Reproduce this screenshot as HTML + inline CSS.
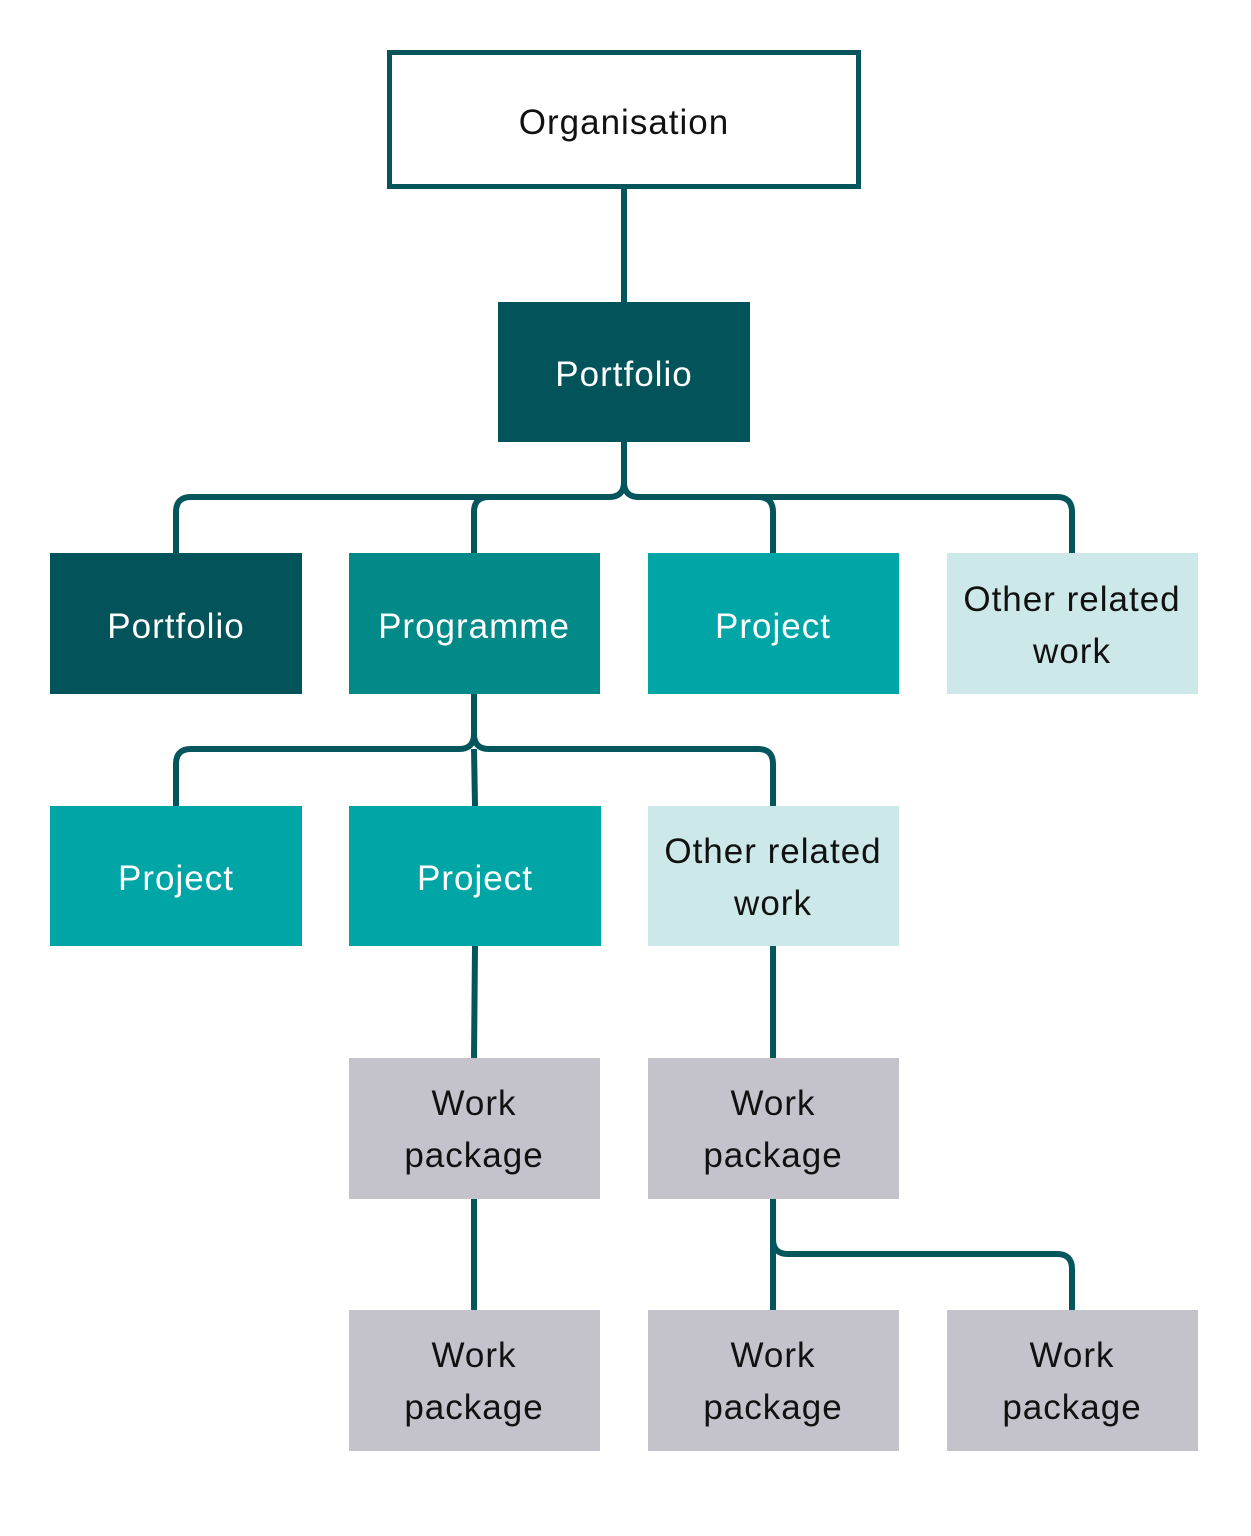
<!DOCTYPE html>
<html><head><meta charset="utf-8"><style>
html,body{margin:0;padding:0;background:#fff;}
svg{display:block;}
text{font-family:"Liberation Sans",sans-serif;font-size:35px;text-anchor:middle;letter-spacing:1px;}
</style></head><body>
<svg width="1251" height="1536" viewBox="0 0 1251 1536" xmlns="http://www.w3.org/2000/svg">
<g fill="none" stroke="#04565c" stroke-width="6">
<path d="M624 187 V302"/>
<path d="M176 553 V512 Q176 497 191 497 H609 Q624 497 624 482 V442"/>
<path d="M624 482 Q624 497 639 497 H1057 Q1072 497 1072 512 V553"/>
<path d="M474 553 V512 Q474 497 489 497"/>
<path d="M773 553 V512 Q773 497 758 497"/>
<path d="M176 806 V764 Q176 749 191 749 H459 Q474 749 474 734 V694"/>
<path d="M474 734 Q474 749 489 749 H758 Q773 749 773 764 V806"/>
<path d="M474 749 L475 806"/>
<path d="M475 946 L474 1058"/>
<path d="M773 946 V1058"/>
<path d="M474 1199 V1310"/>
<path d="M773 1199 V1310"/>
<path d="M773 1239 Q773 1254 788 1254 H1057 Q1072 1254 1072 1269 V1310"/>
</g>
<rect x="389.5" y="52.5" width="469" height="134" fill="#fff" stroke="#04565c" stroke-width="5"/>
<text x="624" y="134" fill="#111">Organisation</text>
<rect x="498" y="302" width="252" height="140" fill="#03545a"/>
<text x="624" y="386" fill="#fff">Portfolio</text>

<rect x="50" y="553" width="252" height="141" fill="#03545a"/>
<text x="176" y="638" fill="#fff">Portfolio</text>
<rect x="349" y="553" width="251" height="141" fill="#028a89"/>
<text x="474" y="638" fill="#fff">Programme</text>
<rect x="648" y="553" width="251" height="141" fill="#00a6a6"/>
<text x="773" y="638" fill="#fff">Project</text>
<rect x="947" y="553" width="251" height="141" fill="#cde8e8"/>
<text x="1072" y="611" fill="#111">Other related</text>
<text x="1072" y="663" fill="#111">work</text>

<rect x="50" y="806" width="252" height="140" fill="#00a6a6"/>
<text x="176" y="890" fill="#fff">Project</text>
<rect x="349" y="806" width="252" height="140" fill="#00a6a6"/>
<text x="475" y="890" fill="#fff">Project</text>
<rect x="648" y="806" width="251" height="140" fill="#cde8e8"/>
<text x="773" y="863" fill="#111">Other related</text>
<text x="773" y="915" fill="#111">work</text>

<g fill="#c4c3cb">
<rect x="349" y="1058" width="251" height="141"/>
<rect x="648" y="1058" width="251" height="141"/>
<rect x="349" y="1310" width="251" height="141"/>
<rect x="648" y="1310" width="251" height="141"/>
<rect x="947" y="1310" width="251" height="141"/>
</g>
<g fill="#111">
<text x="474" y="1115">Work</text><text x="474" y="1167">package</text>
<text x="773" y="1115">Work</text><text x="773" y="1167">package</text>
<text x="474" y="1367">Work</text><text x="474" y="1419">package</text>
<text x="773" y="1367">Work</text><text x="773" y="1419">package</text>
<text x="1072" y="1367">Work</text><text x="1072" y="1419">package</text>
</g>
</svg>
</body></html>
